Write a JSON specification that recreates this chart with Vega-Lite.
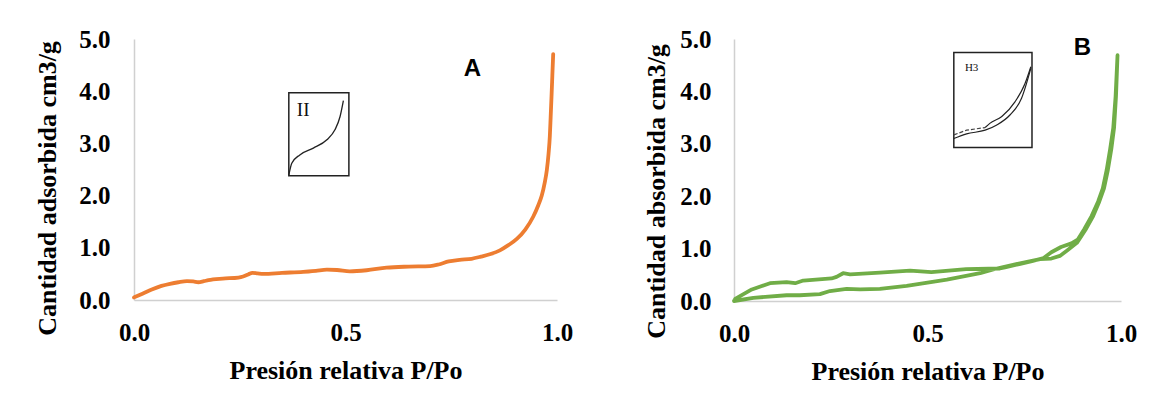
{
  "$schema": "https://vega.github.io/schema/vega-lite/v6.json",
  "background": "white",
  "padding": {"left": 34, "top": 27, "right": 0, "bottom": 0},
  "spacing": 70,
  "config": {
    "view": {"stroke": null},
    "axis": {
      "domainColor": "#d0d0d0", "domainWidth": 1.5, "ticks": false, "grid": false,
      "labelFont": "Liberation Serif", "labelFontWeight": "bold", "labelFontSize": 25, "labelColor": "#000",
      "titleFont": "Liberation Serif", "titleFontWeight": "bold", "titleFontSize": 26, "titleColor": "#000"
    }
  },
  "datasets": {
    "curveA": [
      {"x":0.0,"y":0.05},{"x":0.02,"y":0.12},{"x":0.042,"y":0.2},{"x":0.065,"y":0.27},{"x":0.085,"y":0.31},{"x":0.105,"y":0.34},{"x":0.125,"y":0.36},{"x":0.14,"y":0.355},{"x":0.152,"y":0.34},{"x":0.165,"y":0.36},{"x":0.176,"y":0.38},{"x":0.21,"y":0.41},{"x":0.247,"y":0.43},{"x":0.258,"y":0.45},{"x":0.27,"y":0.49},{"x":0.28,"y":0.52},{"x":0.292,"y":0.51},{"x":0.306,"y":0.5},{"x":0.35,"y":0.52},{"x":0.4,"y":0.54},{"x":0.43,"y":0.56},{"x":0.456,"y":0.58},{"x":0.48,"y":0.575},{"x":0.51,"y":0.55},{"x":0.55,"y":0.57},{"x":0.597,"y":0.62},{"x":0.65,"y":0.64},{"x":0.7,"y":0.65},{"x":0.72,"y":0.68},{"x":0.744,"y":0.74},{"x":0.77,"y":0.77},{"x":0.798,"y":0.79},{"x":0.82,"y":0.83},{"x":0.843,"y":0.88},{"x":0.865,"y":0.95},{"x":0.885,"y":1.05},{"x":0.905,"y":1.17},{"x":0.925,"y":1.35},{"x":0.944,"y":1.6},{"x":0.956,"y":1.82},{"x":0.964,"y":2.0},{"x":0.971,"y":2.25},{"x":0.976,"y":2.49},{"x":0.98,"y":2.8},{"x":0.983,"y":3.13},{"x":0.985,"y":3.5},{"x":0.987,"y":3.89},{"x":0.989,"y":4.3},{"x":0.991,"y":4.71}
    ],
    "curveB": [
      {"k":1,"x":0.0,"y":0.0},{"k":2,"x":0.05,"y":0.06},{"k":3,"x":0.136,"y":0.11},{"k":4,"x":0.17,"y":0.11},{"k":5,"x":0.222,"y":0.13},{"k":6,"x":0.248,"y":0.19},{"k":7,"x":0.291,"y":0.23},{"k":8,"x":0.326,"y":0.22},{"k":9,"x":0.377,"y":0.23},{"k":10,"x":0.446,"y":0.29},{"k":11,"x":0.55,"y":0.41},{"k":12,"x":0.636,"y":0.53},{"k":13,"x":0.679,"y":0.62},{"k":14,"x":0.739,"y":0.72},{"k":15,"x":0.791,"y":0.8},{"k":16,"x":0.82,"y":0.81},{"k":17,"x":0.842,"y":0.86},{"k":18,"x":0.86,"y":0.96},{"k":19,"x":0.886,"y":1.11},{"k":20,"x":0.91,"y":1.38},{"k":21,"x":0.928,"y":1.62},{"k":22,"x":0.944,"y":1.9},{"k":23,"x":0.956,"y":2.15},{"k":24,"x":0.966,"y":2.5},{"k":25,"x":0.975,"y":2.9},{"k":26,"x":0.982,"y":3.3},{"k":27,"x":0.987,"y":3.9},{"k":28,"x":0.991,"y":4.69},
      {"k":29,"x":0.986,"y":3.9},{"k":30,"x":0.98,"y":3.3},{"k":31,"x":0.972,"y":2.9},{"k":32,"x":0.963,"y":2.5},{"k":33,"x":0.953,"y":2.15},{"k":34,"x":0.941,"y":1.9},{"k":35,"x":0.924,"y":1.62},{"k":36,"x":0.905,"y":1.37},{"k":37,"x":0.888,"y":1.17},{"k":38,"x":0.872,"y":1.1},{"k":39,"x":0.845,"y":1.03},{"k":40,"x":0.82,"y":0.93},{"k":41,"x":0.8,"y":0.82},{"k":42,"x":0.77,"y":0.76},{"k":43,"x":0.74,"y":0.71},{"k":44,"x":0.7,"y":0.64},{"k":45,"x":0.687,"y":0.62},{"k":46,"x":0.6,"y":0.61},{"k":47,"x":0.51,"y":0.55},{"k":48,"x":0.455,"y":0.58},{"k":49,"x":0.377,"y":0.54},{"k":50,"x":0.3,"y":0.51},{"k":51,"x":0.282,"y":0.53},{"k":52,"x":0.265,"y":0.46},{"k":53,"x":0.252,"y":0.43},{"k":54,"x":0.179,"y":0.39},{"k":55,"x":0.158,"y":0.34},{"k":56,"x":0.136,"y":0.36},{"k":57,"x":0.093,"y":0.34},{"k":58,"x":0.046,"y":0.22},{"k":59,"x":0.003,"y":0.04}
    ],
    "boxA": [{"x":0.366,"x2":0.508,"y":3.97,"y2":2.38}],
    "boxB": [{"x":0.568,"x2":0.77,"y":4.74,"y2":2.93}],
    "insetA": [
      {"x":0.366,"y":2.39},{"x":0.373,"y":2.62},{"x":0.392,"y":2.78},{"x":0.424,"y":2.91},{"x":0.456,"y":3.07},{"x":0.475,"y":3.26},{"x":0.487,"y":3.51},{"x":0.495,"y":3.82}
    ],
    "insetB": [
      {"s":"lo","x":0.568,"y":3.1},{"s":"lo","x":0.601,"y":3.19},{"s":"lo","x":0.649,"y":3.26},{"s":"lo","x":0.679,"y":3.36},{"s":"lo","x":0.713,"y":3.55},{"s":"lo","x":0.743,"y":3.87},{"s":"lo","x":0.767,"y":4.44},
      {"s":"up","x":0.649,"y":3.31},{"s":"up","x":0.661,"y":3.39},{"s":"up","x":0.692,"y":3.52},{"s":"up","x":0.726,"y":3.8},{"s":"up","x":0.752,"y":4.15},{"s":"up","x":0.767,"y":4.47}
    ],
    "insetBdash": [
      {"x":0.568,"y":3.17},{"x":0.601,"y":3.26},{"x":0.649,"y":3.31}
    ],
    "letters": [
      {"p":"A","t":"A","x":0.8,"y":4.42},
      {"p":"B","t":"B","x":0.9,"y":4.82}
    ],
    "insetText": [
      {"p":"A","t":"II","x":0.4,"y":3.64},
      {"p":"B","t":"H3","x":0.614,"y":4.44}
    ]
  },
  "hconcat": [
    {
      "width": 423,
      "height": 261,
      "encoding": {
        "x": {"field": "x", "type": "quantitative", "scale": {"domain": [0, 1], "nice": false, "zero": false},
          "axis": {"values": [0, 0.5, 1], "format": ".1f", "labelPadding": 20, "labelFlush": false, "title": "Presión relativa P/Po", "titlePadding": 12}},
        "y": {"field": "y", "type": "quantitative", "scale": {"domain": [0, 5], "nice": false, "zero": false},
          "axis": {"values": [0, 1, 2, 3, 4, 5], "format": ".1f", "labelPadding": 24, "labelFlush": false, "title": "Cantidad adsorbida cm3/g", "titlePadding": 18, "titleY": 149}}
      },
      "layer": [
        {"data": {"name": "curveA"}, "mark": {"type": "line", "color": "#ED7D31", "strokeWidth": 3.8, "interpolate": "monotone", "strokeJoin": "round", "strokeCap": "round"}},
        {"data": {"name": "boxA"}, "mark": {"type": "rect", "fill": "white", "stroke": "#222", "strokeWidth": 1.5}, "encoding": {"x2": {"field": "x2"}, "y2": {"field": "y2"}}},
        {"data": {"name": "insetA"}, "mark": {"type": "line", "color": "#222", "strokeWidth": 1.3, "interpolate": "monotone"}},
        {"data": {"name": "insetText"}, "transform": [{"filter": "datum.p == 'A'"}], "mark": {"type": "text", "font": "Liberation Serif", "fontSize": 19, "color": "#111"}, "encoding": {"text": {"field": "t"}}},
        {"data": {"name": "letters"}, "transform": [{"filter": "datum.p == 'A'"}], "mark": {"type": "text", "font": "Liberation Sans", "fontWeight": "bold", "fontSize": 24, "color": "#000"}, "encoding": {"text": {"field": "t"}}}
      ]
    },
    {
      "width": 387,
      "height": 262,
      "encoding": {
        "x": {"field": "x", "type": "quantitative", "scale": {"domain": [0, 1], "nice": false, "zero": false},
          "axis": {"values": [0, 0.5, 1], "format": ".1f", "labelPadding": 20, "labelFlush": false, "title": "Presión relativa P/Po", "titlePadding": 12}},
        "y": {"field": "y", "type": "quantitative", "scale": {"domain": [0, 5], "nice": false, "zero": false},
          "axis": {"values": [0, 1, 2, 3, 4, 5], "format": ".1f", "labelPadding": 23, "labelFlush": false, "title": "Cantidad absorbida cm3/g", "titlePadding": 10, "titleY": 152}}
      },
      "layer": [
        {"data": {"name": "curveB"}, "mark": {"type": "line", "color": "#70AD47", "strokeWidth": 3.8, "interpolate": "linear", "strokeJoin": "round", "strokeCap": "round"}, "encoding": {"order": {"field": "k"}}},
        {"data": {"name": "boxB"}, "mark": {"type": "rect", "fill": "white", "stroke": "#222", "strokeWidth": 1.5}, "encoding": {"x2": {"field": "x2"}, "y2": {"field": "y2"}}},
        {"data": {"name": "insetB"}, "mark": {"type": "line", "color": "#222", "strokeWidth": 1.2, "interpolate": "monotone"}, "encoding": {"detail": {"field": "s"}}},
        {"data": {"name": "insetBdash"}, "mark": {"type": "line", "color": "#444", "strokeWidth": 1.2, "strokeDash": [4, 2]}},
        {"data": {"name": "insetText"}, "transform": [{"filter": "datum.p == 'B'"}], "mark": {"type": "text", "font": "Liberation Serif", "fontSize": 11, "color": "#111"}, "encoding": {"text": {"field": "t"}}},
        {"data": {"name": "letters"}, "transform": [{"filter": "datum.p == 'B'"}], "mark": {"type": "text", "font": "Liberation Sans", "fontWeight": "bold", "fontSize": 24, "color": "#000"}, "encoding": {"text": {"field": "t"}}}
      ]
    }
  ]
}
